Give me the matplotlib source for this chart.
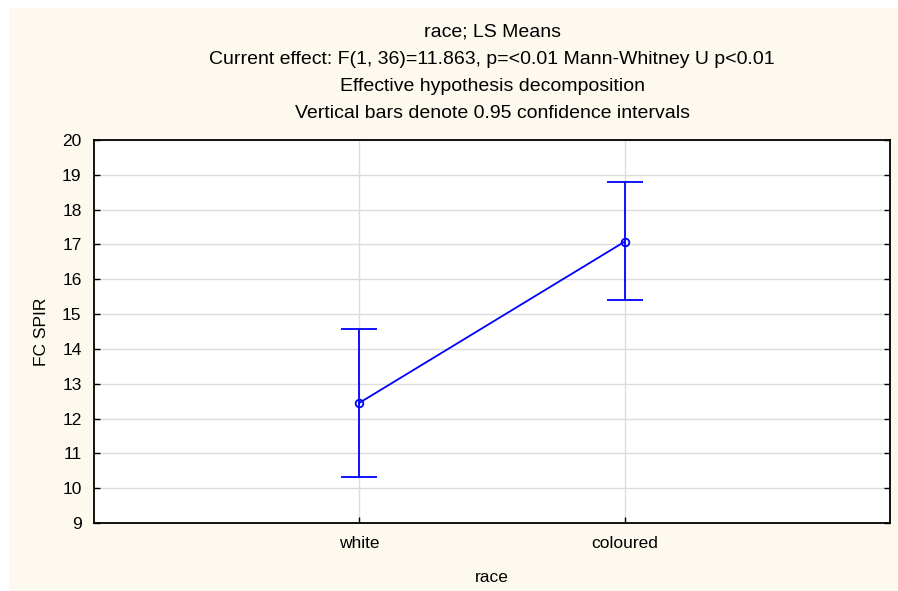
import matplotlib
matplotlib.use("Agg")
import matplotlib.pyplot as plt
from matplotlib.patches import Rectangle

categories = ["white", "coloured"]
means = [12.45, 17.08]
lower = [10.33, 15.40]
upper = [14.58, 18.80]

plt.rcParams['font.family'] = ['Liberation Sans', 'DejaVu Sans']

W, H = 898, 591
fig = plt.figure(figsize=(W/100, H/100), dpi=100, facecolor='white')
cream = '#FEF9EF'
fig.patches.append(Rectangle((9/W, 0), 1 - 9/W, 1 - 8/H, transform=fig.transFigure,
                             facecolor=cream, edgecolor='none', zorder=-10))

ax = fig.add_axes([94/W, 1 - 523/H, (890-94)/W, (523-140)/H])
ax.set_facecolor('white')

xs = [1, 2]
yerr = [[m - l for m, l in zip(means, lower)], [u - m for m, u in zip(means, upper)]]
ax.errorbar(xs, means, yerr=yerr, color='#0000FF', lw=1.3, capsize=13, capthick=1.3,
            marker='o', markersize=5.5, markerfacecolor='none', markeredgecolor='#0000FF',
            markeredgewidth=1.3, zorder=3)

ax.set_xlim(0, 3)
ax.set_ylim(9, 20)
ax.set_xticks(xs)
ax.set_xticklabels(categories)
ax.set_yticks(range(9, 21))
ax.grid(True, color='#DCDCDC', lw=1)
ax.set_axisbelow(True)
ax.tick_params(axis='both', direction='in', length=4, width=1, labelsize=12.5, colors='black')
ax.tick_params(axis='y', right=True, pad=9)
ax.tick_params(axis='x', pad=9)
for s in ax.spines.values():
    s.set_linewidth(1.3)
    s.set_color('black')

ax.set_xlabel('race', fontsize=12.5, labelpad=14)
ax.set_ylabel('FC SPIR', fontsize=12.5, labelpad=9)

titles = ["race; LS Means",
          "Current effect: F(1, 36)=11.863, p=<0.01 Mann-Whitney U p<0.01",
          "Effective hypothesis decomposition",
          "Vertical bars denote 0.95 confidence intervals"]
for i, t in enumerate(titles):
    fig.text(0.5 * (94 + 890) / W, 1 - (32 + 27.3*i)/H, t, ha='center', va='center', fontsize=14)

fig.savefig('out.png', dpi=100, facecolor=fig.get_facecolor())
